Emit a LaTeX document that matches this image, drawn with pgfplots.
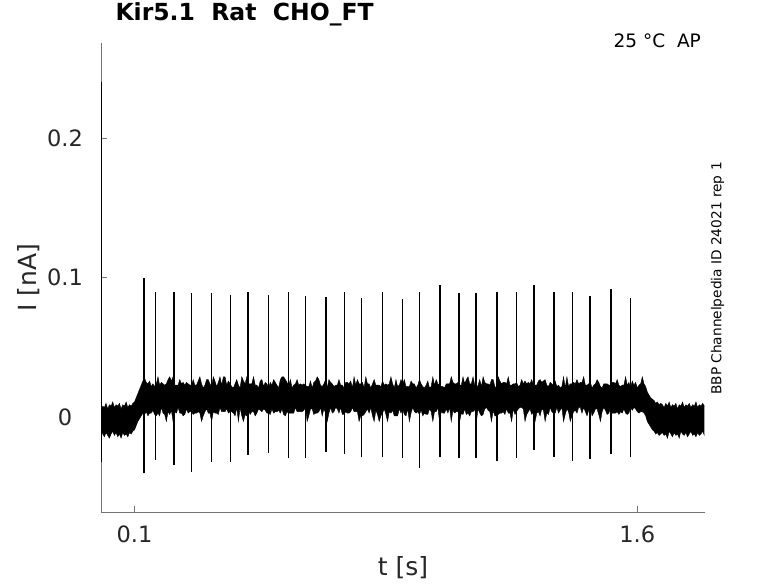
\documentclass[border=0pt]{standalone}
\usepackage{fontspec}
\setmainfont{DejaVu Sans}
\usepackage{pgfplots}
\pgfplotsset{compat=1.18}
\usepackage{pgfplotstable}
\usepgfplotslibrary{fillbetween}

\pgfplotstableread{
t U L
0.000 0.005 -0.010
0.005 0.008 -0.012
0.010 0.007 -0.014
0.015 0.010 -0.011
0.020 0.006 -0.013
0.025 0.009 -0.015
0.030 0.008 -0.012
0.035 0.011 -0.010
0.040 0.007 -0.013
0.045 0.009 -0.011
0.050 0.008 -0.014
0.055 0.010 -0.012
0.060 0.006 -0.015
0.065 0.009 -0.011
0.070 0.008 -0.013
0.075 0.011 -0.012
0.080 0.007 -0.014
0.085 0.009 -0.011
0.090 0.008 -0.012
0.095 0.010 -0.010
0.100 0.011 -0.009
0.105 0.014 -0.006
0.110 0.017 -0.003
0.115 0.020 -0.001
0.120 0.023 0.001
0.125 0.026 0.003
0.130 0.028 0.002
0.135 0.025 0.004
0.140 0.024 0.001
0.145 0.026 0.003
0.150 0.022 0.003
0.155 0.024 0.005
0.160 0.022 0.002
0.165 0.024 0.001
0.170 0.029 0.003
0.175 0.023 0.001
0.180 0.025 0.007
0.185 0.024 0.003
0.190 0.023 0.002
0.195 0.024 -0.003
0.200 0.027 0.004
0.205 0.029 0.002
0.210 0.026 0.005
0.215 0.029 -0.003
0.220 0.023 0.004
0.225 0.023 0.003
0.230 0.023 0.007
0.235 0.027 0.003
0.240 0.024 0.003
0.245 0.025 0.001
0.250 0.023 0.002
0.255 0.025 0.006
0.260 0.024 0.003
0.265 0.023 0.004
0.270 0.023 0.004
0.275 0.027 0.002
0.280 0.023 0.003
0.285 0.023 0.003
0.290 0.026 0.004
0.295 0.029 0.003
0.300 0.024 -0.003
0.305 0.021 0.001
0.310 0.023 0.004
0.315 0.027 0.006
0.320 0.027 0.003
0.325 0.024 0.003
0.330 0.022 -0.003
0.335 0.029 0.004
0.340 0.026 0.003
0.345 0.022 0.003
0.350 0.025 0.002
0.355 0.029 0.007
0.360 0.023 0.004
0.365 0.029 0.004
0.370 0.029 0.004
0.375 0.023 0.006
0.380 0.026 0.003
0.385 0.024 0.004
0.390 0.022 0.004
0.395 0.021 0.003
0.400 0.024 0.001
0.405 0.027 0.007
0.410 0.023 -0.003
0.415 0.021 0.007
0.420 0.029 0.001
0.425 0.026 -0.003
0.430 0.024 0.002
0.435 0.029 0.001
0.440 0.024 0.005
0.445 0.024 0.002
0.450 0.024 0.004
0.455 0.029 0.004
0.460 0.023 0.001
0.465 0.023 0.003
0.470 0.021 0.006
0.475 0.026 0.005
0.480 0.027 0.004
0.485 0.022 0.006
0.490 0.025 0.005
0.495 0.024 0.003
0.500 0.021 0.003
0.505 0.025 0.002
0.510 0.023 0.006
0.515 0.027 0.003
0.520 0.025 0.004
0.525 0.023 0.004
0.530 0.021 0.005
0.535 0.027 0.003
0.540 0.029 0.006
0.545 0.029 0.002
0.550 0.027 0.001
0.555 0.025 0.004
0.560 0.023 0.003
0.565 0.027 0.003
0.570 0.021 0.003
0.575 0.023 0.003
0.580 0.024 0.007
0.585 0.027 0.004
0.590 0.023 0.004
0.595 0.024 0.004
0.600 0.023 0.004
0.605 0.024 0.005
0.610 0.023 0.007
0.615 0.022 -0.003
0.620 0.022 0.001
0.625 0.026 0.006
0.630 0.021 0.006
0.635 0.025 0.002
0.640 0.026 0.003
0.645 0.029 0.003
0.650 0.027 0.004
0.655 0.023 0.007
0.660 0.022 0.001
0.665 0.024 0.006
0.670 0.027 0.003
0.675 0.021 -0.003
0.680 0.027 0.003
0.685 0.025 0.007
0.690 0.024 0.003
0.695 0.022 0.004
0.700 0.023 0.007
0.705 0.023 0.006
0.710 0.027 0.003
0.715 0.023 0.007
0.720 0.023 0.002
0.725 0.021 0.002
0.730 0.025 0.004
0.735 0.025 0.003
0.740 0.024 0.003
0.745 0.026 0.004
0.750 0.021 0.007
0.755 0.029 0.004
0.760 0.023 0.004
0.765 0.027 0.004
0.770 0.024 -0.003
0.775 0.024 0.001
0.780 0.025 0.001
0.785 0.021 0.002
0.790 0.029 0.004
0.795 0.024 0.006
0.800 0.024 0.003
0.805 0.021 0.007
0.810 0.024 0.001
0.815 0.027 -0.003
0.820 0.023 0.005
0.825 0.023 0.002
0.830 0.023 -0.003
0.835 0.022 0.001
0.840 0.026 0.003
0.845 0.023 0.006
0.850 0.024 0.002
0.855 0.023 -0.003
0.860 0.024 0.004
0.865 0.029 0.003
0.870 0.024 0.005
0.875 0.021 0.001
0.880 0.027 0.001
0.885 0.022 0.001
0.890 0.023 0.006
0.895 0.027 0.003
0.900 0.024 0.006
0.905 0.027 0.002
0.910 0.022 0.001
0.915 0.022 0.006
0.920 0.022 -0.003
0.925 0.026 0.003
0.930 0.024 0.007
0.935 0.024 0.004
0.940 0.021 0.003
0.945 0.023 0.004
0.950 0.027 0.002
0.955 0.024 0.005
0.960 0.022 0.001
0.965 0.021 0.003
0.970 0.023 0.002
0.975 0.026 0.002
0.980 0.021 0.006
0.985 0.022 0.004
0.990 0.029 -0.003
0.995 0.023 0.004
1.000 0.027 0.004
1.005 0.024 0.007
1.010 0.023 -0.003
1.015 0.022 0.004
1.020 0.022 0.003
1.025 0.021 0.003
1.030 0.024 0.006
1.035 0.024 0.003
1.040 0.024 0.007
1.045 0.029 -0.003
1.050 0.025 0.005
1.055 0.024 0.003
1.060 0.024 0.004
1.065 0.025 0.004
1.070 0.023 -0.003
1.075 0.023 0.003
1.080 0.029 0.002
1.085 0.024 0.006
1.090 0.027 0.002
1.095 0.029 0.003
1.100 0.024 0.001
1.105 0.024 0.004
1.110 0.029 0.004
1.115 0.023 0.006
1.120 0.021 -0.003
1.125 0.023 0.006
1.130 0.027 0.003
1.135 0.022 0.001
1.140 0.029 0.002
1.145 0.025 0.006
1.150 0.024 0.007
1.155 0.024 0.005
1.160 0.023 0.004
1.165 0.027 -0.003
1.170 0.027 0.005
1.175 0.022 0.001
1.180 0.021 0.001
1.185 0.029 0.002
1.190 0.026 0.003
1.195 0.024 0.003
1.200 0.025 0.004
1.205 0.025 0.002
1.210 0.024 0.006
1.215 0.029 0.003
1.220 0.023 0.003
1.225 0.023 -0.003
1.230 0.024 0.006
1.235 0.024 0.002
1.240 0.025 0.004
1.245 0.022 0.006
1.250 0.023 0.007
1.255 0.027 0.007
1.260 0.024 0.006
1.265 0.026 -0.003
1.270 0.024 0.002
1.275 0.025 0.004
1.280 0.024 0.006
1.285 0.027 0.002
1.290 0.023 0.004
1.295 0.023 -0.003
1.300 0.023 0.003
1.305 0.026 0.004
1.310 0.027 0.001
1.315 0.025 0.006
1.320 0.026 0.005
1.325 0.027 -0.003
1.330 0.023 0.003
1.335 0.022 0.002
1.340 0.025 0.007
1.345 0.024 0.004
1.350 0.023 0.003
1.355 0.026 0.003
1.360 0.022 0.007
1.365 0.023 0.003
1.370 0.021 0.005
1.375 0.022 0.007
1.380 0.029 -0.003
1.385 0.021 0.002
1.390 0.029 0.006
1.395 0.022 0.004
1.400 0.024 -0.003
1.405 0.024 0.001
1.410 0.025 0.004
1.415 0.024 0.005
1.420 0.027 0.003
1.425 0.024 0.007
1.430 0.025 0.007
1.435 0.025 0.003
1.440 0.029 0.007
1.445 0.023 0.004
1.450 0.023 0.001
1.455 0.024 0.005
1.460 0.025 0.007
1.465 0.021 0.001
1.470 0.023 0.003
1.475 0.024 0.006
1.480 0.027 0.006
1.485 0.025 0.002
1.490 0.022 -0.003
1.495 0.021 0.004
1.500 0.024 0.007
1.505 0.024 0.005
1.510 0.024 0.002
1.515 0.023 0.003
1.520 0.023 0.006
1.525 0.025 0.003
1.530 0.025 0.003
1.535 0.024 0.003
1.540 0.027 0.004
1.545 0.023 0.002
1.550 0.022 0.004
1.555 0.023 0.003
1.560 0.023 0.006
1.565 0.029 0.003
1.570 0.023 0.002
1.575 0.025 0.003
1.580 0.021 0.007
1.585 0.026 0.005
1.590 0.023 0.007
1.595 0.025 0.006
1.600 0.021 0.004
1.605 0.023 0.003
1.610 0.024 0.004
1.615 0.029 0.004
1.620 0.024 0.003
1.625 0.022 0.001
1.630 0.018 -0.003
1.635 0.016 -0.005
1.640 0.014 -0.007
1.645 0.013 -0.009
1.650 0.012 -0.010
1.655 0.010 -0.012
1.660 0.011 -0.011
1.665 0.009 -0.013
1.670 0.010 -0.012
1.675 0.009 -0.011
1.680 0.007 -0.013
1.685 0.010 -0.012
1.690 0.008 -0.015
1.695 0.011 -0.010
1.700 0.007 -0.012
1.705 0.009 -0.014
1.710 0.008 -0.011
1.715 0.010 -0.013
1.720 0.006 -0.012
1.725 0.009 -0.015
1.730 0.008 -0.010
1.735 0.011 -0.012
1.740 0.007 -0.013
1.745 0.009 -0.011
1.750 0.008 -0.014
1.755 0.010 -0.012
1.760 0.007 -0.010
1.765 0.009 -0.013
1.770 0.008 -0.012
1.775 0.011 -0.014
1.780 0.007 -0.011
1.785 0.009 -0.013
1.790 0.008 -0.012
1.795 0.010 -0.010
1.800 0.008 -0.013
}\band

\pgfplotstableread{
t y
0.001 -0.032
0.001 0.240
0.001 nan
0.1277 -0.0402
0.1277 0.0996
0.1277 nan
0.1627 -0.0306
0.1627 0.0900
0.1627 nan
0.2182 -0.0342
0.2182 0.0900
0.2182 nan
0.2701 -0.0390
0.2701 0.0889
0.2701 nan
0.3298 -0.0318
0.3298 0.0889
0.3298 nan
0.3865 -0.0318
0.3865 0.0877
0.3865 nan
0.4381 -0.0270
0.4381 0.0900
0.4381 nan
0.4999 -0.0258
0.4999 0.0877
0.4999 nan
0.5590 -0.0294
0.5590 0.0900
0.5590 nan
0.6103 -0.0294
0.6103 0.0872
0.6103 nan
0.6709 -0.0247
0.6709 0.0865
0.6709 nan
0.7267 -0.0263
0.7267 0.0900
0.7267 nan
0.7775 -0.0287
0.7775 0.0853
0.7775 nan
0.8401 -0.0282
0.8401 0.0900
0.8401 nan
0.8998 -0.0294
0.8998 0.0848
0.8998 nan
0.9505 -0.0366
0.9505 0.0900
0.9505 nan
1.0111 -0.0282
1.0111 0.0948
1.0111 nan
1.0678 -0.0294
1.0678 0.0889
1.0678 nan
1.1186 -0.0294
1.1186 0.0889
1.1186 nan
1.1812 -0.0311
1.1812 0.0900
1.1812 nan
1.2400 -0.0294
1.2400 0.0900
1.2400 nan
1.2917 -0.0234
1.2917 0.0948
1.2917 nan
1.3513 -0.0287
1.3513 0.0900
1.3513 nan
1.4072 -0.0311
1.4072 0.0900
1.4072 nan
1.4588 -0.0301
1.4588 0.0872
1.4588 nan
1.5215 -0.0263
1.5215 0.0918
1.5215 nan
1.5803 -0.0287
1.5803 0.0857
}\spikes

\begin{document}
\begin{tikzpicture}
\begin{axis}[
  scale only axis, width=604pt, height=469pt,
  xmin=0, xmax=1.802, ymin=-0.0679, ymax=0.2683,
  axis x line*=bottom, axis y line*=left,
  axis line style={-, draw=black!55, line width=0.6pt},
  xtick={0.1,1.6}, ytick={0,0.1,0.2},
  scaled ticks=false,
  tick align=inside, major tick length=6pt,
  tick style={draw=black!55, line width=0.6pt},
  /pgf/number format/assume math mode=true,
  ticklabel style={font=\fontsize{22.5}{22.5}\selectfont, text=black!85},
  xticklabel style={anchor=base, yshift=-30pt},
  yticklabel style={anchor=center, xshift=-36pt},
  xlabel={t [s]},
  xlabel style={at={(axis description cs:0.5,-0.1179)}, anchor=center,
    font=\fontsize{25}{25}\selectfont, text=black!85},
  ylabel={I [nA]},
  ylabel style={at={(axis description cs:-0.1192,0.5)}, anchor=center,
    font=\fontsize{25}{25}\selectfont, text=black!85},
  title={Kir5.1~~Rat~~CHO\_FT},
  title style={at={(axis description cs:0.0182,1.0348)}, anchor=base west,
    font=\bfseries\fontsize{23.5}{23.5}\selectfont},
  unbounded coords=jump,
  clip mode=individual,
]
\addplot[name path=U, draw=black, line width=0.4pt] table[x=t, y=U] {\band};
\addplot[name path=L, draw=black, line width=0.4pt] table[x=t, y=L] {\band};
\addplot[black] fill between[of=U and L];
\addplot[black, line width=1.5pt] table[x=t, y=y] {\spikes};
\coordinate (O) at (rel axis cs:0,0);
\node[anchor=base east, font=\fontsize{18.5}{18.5}\selectfont]
  at (axis description cs:0.9990,0.9908) {25 °C~~AP};
\node[rotate=90, anchor=center, font=\fontsize{13.7}{13.7}\selectfont]
  at (axis description cs:1.0207,0.4979) {BBP Channelpedia ID 24021 rep 1};
\end{axis}
\pgfresetboundingbox
\path[use as bounding box] (O) ++(-101pt,-71pt) rectangle ++(778pt,583pt);
\end{tikzpicture}
\end{document}
